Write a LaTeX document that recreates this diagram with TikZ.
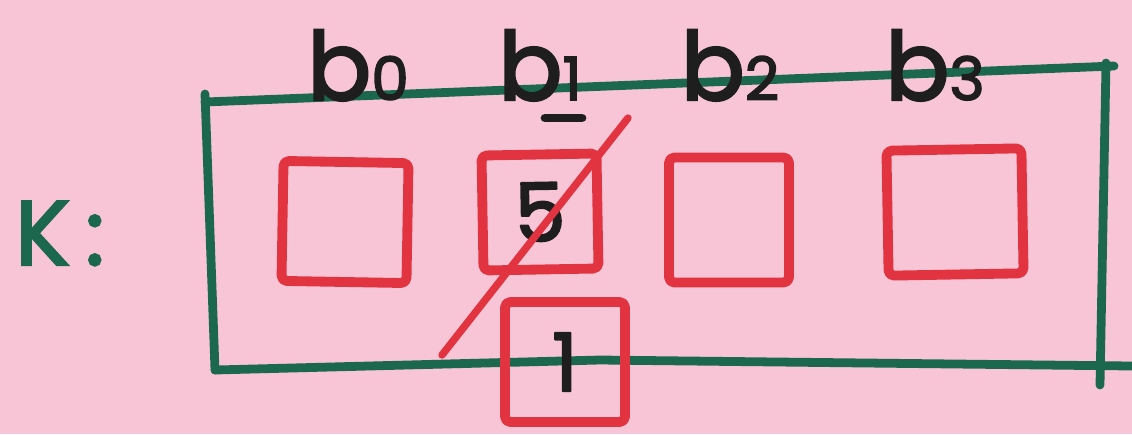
\documentclass[tikz,border=0pt]{standalone}
\usepackage{fontspec}
\setmainfont{Poppins}[BoldFont=Poppins,BoldFeatures={FakeBold=2.5}]
\definecolor{bgpink}{RGB}{247,197,213}
\definecolor{mkgreen}{RGB}{28,104,78}
\definecolor{mkred}{RGB}{226,52,64}
\definecolor{mkblack}{RGB}{30,30,30}
\newcommand\blabel[1]{\fontsize{54}{54}\selectfont b\fontsize{34}{34}\selectfont #1}
\begin{document}
\begin{tikzpicture}[x=0.02cm,y=-0.02cm,
  frame/.style={draw=mkgreen,line width=5pt,line cap=round,line join=round},
  cell/.style={draw=mkred,line width=5.6pt,line join=round,rounded corners=3pt,inner sep=0pt,
    font=\fontsize{46}{46}\selectfont\bfseries,text=mkblack},
  lbl/.style={anchor=base,text=mkblack,inner sep=0pt,font=\bfseries},
  strike/.style={draw=mkred,line width=4.2pt,line cap=round}]
\fill[bgpink] (0,0) rectangle (1132,434);
\useasboundingbox (0,0) rectangle (1132,434);
% outer green frame
\coordinate (tl) at (205,102);
\coordinate (tr) at (1114,66);
\coordinate (bl) at (215,370);
\coordinate (br) at (1132,366);
\coordinate (tlt) at (205,94);
\coordinate (rb) at (1100,385);
\coordinate (rt) at (1106,63);
\draw[frame] (tl) -- (tr);
\draw[frame] (tlt) -- (bl);
\draw[frame] (bl) -- (600,360) -- (br);
\draw[frame] (rt) -- (rb);
% label K
\node[text=mkgreen,anchor=base,inner sep=0pt,font=\fontsize{52}{52}\selectfont\bfseries] (K) at (60,265) {K\,:};
% cells
\node[cell,minimum width=2.5cm,minimum height=2.4cm,rotate=-1] (c0) at (345,222) {};
\node[cell,minimum width=2.3cm,minimum height=2.3cm,rotate=1] (c1) at (540,212) {5};
\node[cell,minimum width=2.4cm,minimum height=2.5cm] (c2) at (729,220) {};
\node[cell,minimum width=2.7cm,minimum height=2.5cm,rotate=1] (c3) at (955,212) {};
\node[cell,minimum width=2.4cm,minimum height=2.4cm] (c4) at (565,362) {1};
% top labels
\node[lbl] (b0) at (358,100) {\blabel{0}};
\node[lbl] (b1) at (540,100) {\blabel{1}};
\node[lbl] (b2) at (730,100) {\blabel{2}};
\node[lbl] (b3) at (935,100) {\blabel{3}};
% underline under b1
\coordinate (u1) at (545,118);
\coordinate (u2) at (582,118);
\draw[draw=mkblack,line width=5pt,line cap=round] (u1) -- (u2);
% strike-through of cell b1
\coordinate (s1) at (442,355);
\coordinate (s2) at (628,118);
\draw[strike] (s1) -- (s2);
\end{tikzpicture}
\end{document}
